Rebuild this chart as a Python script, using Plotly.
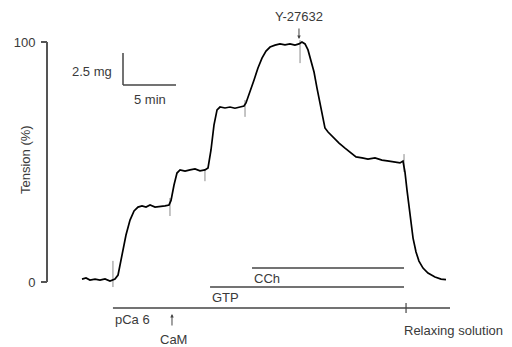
import plotly.graph_objects as go

# ---- data (time in minutes, tension in % of max) ----
time_min = [0, 0.38, 0.75, 1.23, 1.70, 2.17, 2.64, 2.83, 3.11, 3.40, 3.77, 4.15, 4.53, 4.91,
            5.28, 5.66, 6.04, 6.42, 6.89, 7.36, 7.83, 8.21, 8.40, 8.68, 8.96, 9.25, 9.72,
            10.19, 10.66, 11.13, 11.60, 11.89, 12.17, 12.45, 12.74, 13.02, 13.49, 13.96,
            14.43, 14.91, 15.28, 15.47, 15.85, 16.23, 16.60, 16.98, 17.36, 17.74, 18.21,
            18.68, 19.15, 19.62, 20.09, 20.47, 20.75, 21.04, 21.32, 21.60, 21.89, 22.17,
            22.45, 22.74, 22.92, 23.21, 23.68, 24.25, 24.81, 25.38, 25.85, 26.42, 26.98,
            27.64, 28.30, 28.96, 29.53, 30.00, 30.28, 30.47, 30.66, 30.94, 31.23, 31.51,
            31.79, 32.17, 32.64, 33.30, 33.87, 34.34]
tension_pct = [1.2, 1.7, 0.8, 1.2, 0.8, 1.3, 0.4, 0.8, 1.2, 2.9, 11.3, 19.6, 25.8, 29.6,
               31.2, 31.7, 31.2, 32.1, 31.2, 31.4, 31.7, 32.1, 34.0, 40.4, 45.4, 46.7, 46.2,
               46.7, 47.1, 46.3, 46.7, 47.5, 55.0, 65.4, 71.7, 72.9, 72.5, 72.9,
               72.4, 72.9, 73.3, 74.6, 79.2, 84.2, 89.2, 93.3, 96.2, 97.9, 98.7,
               99.2, 98.8, 99.2, 98.7, 99.2, 100.0, 99.2, 96.7, 92.5, 87.5, 80.8,
               74.6, 67.5, 64.2, 62.5, 60.4, 57.9, 55.8, 53.7, 52.1, 51.7, 51.2,
               51.7, 50.8, 50.4, 50.0, 49.6, 50.4, 45.8, 38.3, 27.9, 18.3, 12.5,
               8.7, 5.8, 3.7, 2.1, 1.2, 1.0]

# solution-change artifacts on the trace
artifact_time = [2.92, 8.30, 11.60, 15.38, 20.57, 30.38]
artifact_lo = [-2.1, 27.5, 42.0, 68.8, 91.2, 45.8]
artifact_hi = [8.8, 35.0, 47.0, 75.8, 100.8, 53.3]

# treatment bars
bar_names = ["CCh", "GTP", "pCa 6"]
bar_start = [16.04, 12.08, 2.92]
bar_end = [30.38, 30.38, 34.72]

# events
cam_time = 8.49
y27632_time = 20.47
relax_time = 30.57

y_tickvals = [0, 100]
y_ticktext = ["0", "100"]

# ---- pixel helpers for layout placement ----
PAGE_OFFSET = 8          # default body margin of the page
W, H = 512 - PAGE_OFFSET, 347 - PAGE_OFFSET
PX_PER_MIN = 10.6
X0_PX = 82 - PAGE_OFFSET
PX_PER_PCT = 2.4
Y0_PX = 282 - PAGE_OFFSET


def tx(px):
    """reference-image x pixel -> time"""
    return (px - PAGE_OFFSET - X0_PX) / PX_PER_MIN


def vy(py):
    """reference-image y pixel -> tension"""
    return (Y0_PX - (py - PAGE_OFFSET)) / PX_PER_PCT


FONT = "Liberation Sans, Arial, sans-serif"
FS = 13
TXT = "#3a3a3a"
LINE = "#444444"


def label(x, y, text, xanchor="center", **kw):
    return dict(x=x, y=y, xref="x", yref="y", text=text, showarrow=False,
                xanchor=xanchor, yanchor="middle", borderpad=0,
                font=dict(family=FONT, size=kw.pop("size", FS), color=TXT), **kw)


fig = go.Figure()

# artifacts (thin gray vertical marks)
ax_x, ax_y = [], []
for t, lo, hi in zip(artifact_time, artifact_lo, artifact_hi):
    ax_x += [t, t, None]
    ax_y += [lo, hi, None]
fig.add_trace(go.Scatter(x=ax_x, y=ax_y, mode="lines",
                         line=dict(color="#8a8a8a", width=1), hoverinfo="skip"))

fig.add_trace(go.Scatter(x=time_min, y=tension_pct, mode="lines",
                         line=dict(color="black", width=1.7), hoverinfo="skip"))

shapes = []
annotations = []

# y-axis line from 0 to 100
shapes.append(dict(type="line", xref="x", yref="y", x0=tx(47), x1=tx(47), y0=0, y1=100,
                   line=dict(color="#555555", width=2)))

# treatment bars
bar_y_px = {"CCh": 268, "GTP": 287, "pCa 6": 308}
bar_label_y_px = {"CCh": 278.5, "GTP": 297, "pCa 6": 319}
for name, s, e in zip(bar_names, bar_start, bar_end):
    yb = vy(bar_y_px[name])
    shapes.append(dict(type="line", xref="x", yref="y", x0=s, x1=e, y0=yb, y1=yb,
                       line=dict(color=LINE, width=1.5)))
    annotations.append(label(s, vy(bar_label_y_px[name]), name, xanchor="left", xshift=1))

# relaxing tick on pCa line
shapes.append(dict(type="line", xref="x", yref="y", x0=relax_time, x1=relax_time,
                   y0=vy(313), y1=vy(303), line=dict(color=LINE, width=1.2)))
annotations.append(label(relax_time, vy(330), "Relaxing solution", xanchor="left", xshift=-3))

# CaM arrow
annotations.append(dict(x=cam_time, y=vy(314), xref="x", yref="y", text="",
                        showarrow=True, ax=0, ay=13, arrowhead=2, arrowsize=0.7,
                        arrowwidth=1, arrowcolor=LINE))
annotations.append(label(tx(173), vy(339.5), "CaM"))

# Y-27632 arrow
annotations.append(dict(x=y27632_time, y=vy(39), xref="x", yref="y", text="",
                        showarrow=True, ax=0, ay=-12, arrowhead=2, arrowsize=0.7,
                        arrowwidth=1, arrowcolor=LINE))
annotations.append(label(y27632_time, vy(16.5), "Y-27632"))

# scale bar
sb_x0, sb_x1 = tx(123), tx(123) + 5
sb_ytop, sb_ybot = vy(53), vy(85)
shapes.append(dict(type="line", xref="x", yref="y", x0=sb_x0, x1=sb_x0, y0=sb_ybot, y1=sb_ytop,
                   line=dict(color=LINE, width=1.5)))
shapes.append(dict(type="line", xref="x", yref="y", x0=sb_x0, x1=sb_x1, y0=sb_ybot, y1=sb_ybot,
                   line=dict(color=LINE, width=1.5)))
annotations.append(label(tx(113), vy(71), "2.5 mg", xanchor="right"))
annotations.append(label((sb_x0 + sb_x1) / 2, vy(99.5), "5 min"))

# y-axis title
annotations.append(label(tx(25), vy(160), "Tension (%)", textangle=-90, size=13))

fig.update_layout(
    width=W, height=H,
    margin=dict(l=0, r=0, t=0, b=0, autoexpand=False),
    plot_bgcolor="white", paper_bgcolor="white",
    showlegend=False,
    shapes=shapes, annotations=annotations,
    xaxis=dict(range=[tx(PAGE_OFFSET), tx(512)], visible=False, fixedrange=True),
    yaxis=dict(range=[vy(347), vy(PAGE_OFFSET)], showgrid=False, zeroline=False, showline=False,
               anchor="free", position=(47 - PAGE_OFFSET) / W,
               tickvals=y_tickvals, ticktext=y_ticktext,
               ticks="outside", ticklen=6, tickwidth=2, tickcolor="#555555",
               ticklabelstandoff=3,
               tickfont=dict(family=FONT, size=FS, color=TXT)),
)

fig.write_html("out.html")
